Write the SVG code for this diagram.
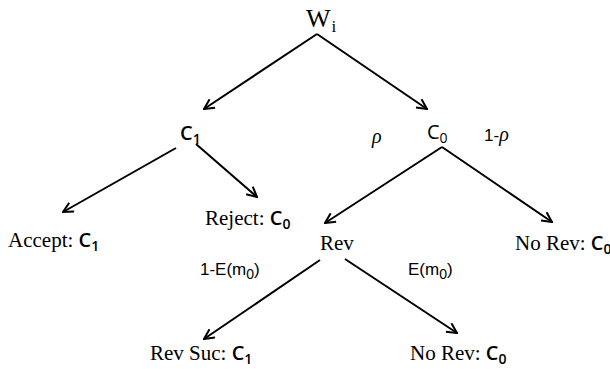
<svg xmlns="http://www.w3.org/2000/svg" width="610" height="369" viewBox="0 0 610 369">
  <defs>
    <marker id="arrow" viewBox="0 0 12 12" refX="11" refY="6" markerWidth="12" markerHeight="12" markerUnits="userSpaceOnUse" orient="auto">
      <path d="M1,1 L11,6 L1,11" fill="none" stroke="#000" stroke-width="2"/>
    </marker>
    <style>
      .edge { stroke: #000; stroke-width: 2; fill: none; marker-end: url(#arrow); }
      .serif { font-family: "Liberation Serif", "DejaVu Serif", serif; font-size: 21px; fill: #000; }
      .c { font-family: "Open Sans", "Noto Sans", sans-serif; font-size: 20px; font-weight: 600; fill: #000; }
      .sans { font-family: "Liberation Sans", Arial, sans-serif; font-size: 17px; fill: #000; }
      .sub { font-size: 14px; }
    </style>
  </defs>

  <g id="connectors">
    <line class="edge" x1="317" y1="34" x2="204" y2="109"/>
    <line class="edge" x1="317" y1="34" x2="427" y2="109"/>
    <line class="edge" x1="176" y1="148" x2="63" y2="212"/>
    <line class="edge" x1="196" y1="144" x2="257" y2="197"/>
    <line class="edge" x1="442" y1="147" x2="325" y2="223"/>
    <line class="edge" x1="442" y1="147" x2="552" y2="222"/>
    <line class="edge" x1="320" y1="260" x2="204" y2="339"/>
    <line class="edge" x1="345" y1="259" x2="457" y2="333"/>
  </g>

  <g id="node-wi">
    <text class="serif" x="306" y="27" style="font-size:26px">W<tspan dx="1" dy="5" style="font-size:17px">i</tspan></text>
  </g>

  <g id="node-c1">
    <text class="c" x="180" y="140">C<tspan class="sub" dy="4">1</tspan></text>
  </g>

  <g id="label-rho">
    <text class="serif" x="372" y="143" style="font-style:italic;font-size:20px">ρ</text>
  </g>

  <g id="node-c0">
    <text class="c" x="427" y="139" style="font-weight:400">C<tspan class="sub" dy="4">0</tspan></text>
  </g>

  <g id="label-one-minus-rho">
    <text class="sans" x="484" y="141">1-<tspan class="serif" style="font-style:italic;font-size:20px">ρ</tspan></text>
  </g>

  <g id="node-accept">
    <text x="8" y="247"><tspan class="serif">Accept: </tspan><tspan class="c">C</tspan><tspan class="c sub" dy="4">1</tspan></text>
  </g>

  <g id="node-reject">
    <text x="205" y="225"><tspan class="serif">Reject: </tspan><tspan class="c">C</tspan><tspan class="c sub" dy="4">0</tspan></text>
  </g>

  <g id="node-rev">
    <text class="serif" x="320" y="250">Rev</text>
  </g>

  <g id="node-norev-right">
    <text x="515" y="250"><tspan class="serif">No Rev: </tspan><tspan class="c">C</tspan><tspan class="c sub" dy="4">0</tspan></text>
  </g>

  <g id="label-one-minus-e">
    <text class="sans" x="200" y="275">1-E(m<tspan class="sub" dy="4">0</tspan><tspan dy="-4">)</tspan></text>
  </g>

  <g id="label-e">
    <text class="sans" x="408" y="275">E(m<tspan class="sub" dy="4">0</tspan><tspan dy="-4">)</tspan></text>
  </g>

  <g id="node-rev-suc">
    <text x="150" y="360"><tspan class="serif">Rev Suc: </tspan><tspan class="c">C</tspan><tspan class="c sub" dy="4">1</tspan></text>
  </g>

  <g id="node-norev-bottom">
    <text x="410" y="360"><tspan class="serif">No Rev: </tspan><tspan class="c">C</tspan><tspan class="c sub" dy="4">0</tspan></text>
  </g>
</svg>
